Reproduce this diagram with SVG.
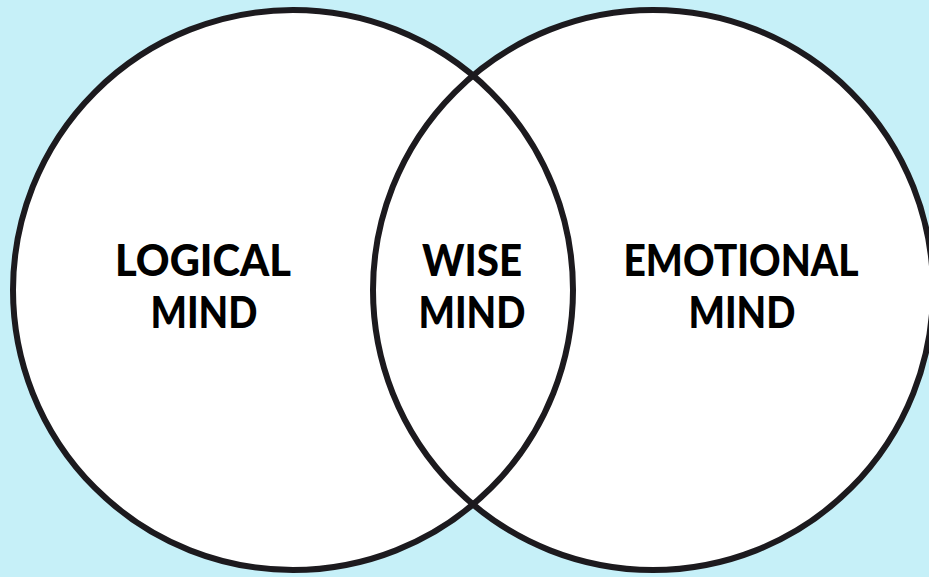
<svg xmlns="http://www.w3.org/2000/svg" width="929" height="577" viewBox="0 0 929 577">
<style>
.fill{fill:#ffffff;stroke:none}
.ring{fill:none;stroke:#1c1a1e;stroke-width:6}
.lbl{font-family:"Lato","Inter","Liberation Sans",sans-serif;font-weight:900;font-size:43px;fill:#000;text-anchor:middle}
</style>
<rect width="929" height="577" fill="#c6f0f8"/>
<g id="fills">
<circle class="fill" cx="293" cy="290" r="280"/>
<circle class="fill" cx="653" cy="290" r="280"/>
</g>
<g id="logical">
<circle class="ring" cx="293" cy="290" r="280"/>
<text class="lbl" x="203" y="276" textLength="176" lengthAdjust="spacingAndGlyphs">LOGICAL</text>
<text class="lbl" x="204" y="328" textLength="107" lengthAdjust="spacingAndGlyphs">MIND</text>
</g>
<g id="emotional">
<circle class="ring" cx="653" cy="290" r="280"/>
<text class="lbl" x="741" y="276" textLength="235" lengthAdjust="spacingAndGlyphs">EMOTIONAL</text>
<text class="lbl" x="742" y="328" textLength="107" lengthAdjust="spacingAndGlyphs">MIND</text>
</g>
<g id="wise">
<text class="lbl" x="472" y="276" textLength="100" lengthAdjust="spacingAndGlyphs">WISE</text>
<text class="lbl" x="472" y="328" textLength="107" lengthAdjust="spacingAndGlyphs">MIND</text>
</g>
<g id="connectors"/>
</svg>
